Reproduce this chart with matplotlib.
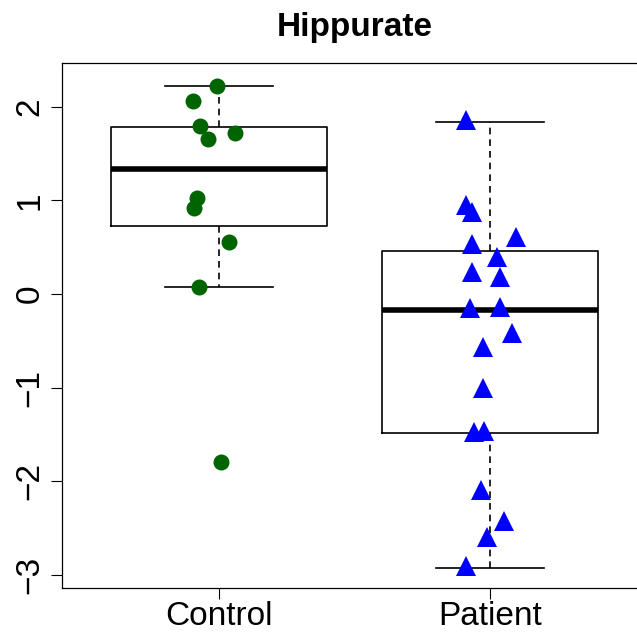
import matplotlib
matplotlib.use("Agg")
import matplotlib.pyplot as plt

# ---- data ----
categories = ["Control", "Patient"]

control_vals = [2.217, 2.063, 1.793, 1.654, 1.722, 1.021, 0.915, 0.552, 0.078, -1.796]
control_jitter = [-0.009, -0.097, -0.070, -0.042, 0.059, -0.082, -0.092, 0.038, -0.073, 0.007]

patient_vals = [1.857, 0.950, 0.878, 0.612, 0.534, 0.398, 0.232, 0.178, -0.153, -0.135,
                -0.413, -0.562, -1.007, -1.470, -1.459, -2.090, -2.420, -2.590, -2.900]
patient_jitter = [-0.089, -0.089, -0.066, 0.097, -0.065, 0.025, -0.065, 0.039, -0.073, 0.036,
                  0.082, -0.027, -0.027, -0.059, -0.021, -0.034, 0.052, -0.012, -0.087]

box_med = [1.334, -0.171]
box_q1 = [0.729, -1.480]
box_q3 = [1.779, 0.459]
box_lo = [0.075, -2.928]
box_hi = [2.217, 1.832]

yticks = [-3, -2, -1, 0, 1, 2]

plt.rcParams['font.family'] = ['Liberation Sans', 'DejaVu Sans']

fig = plt.figure(figsize=(6.37, 6.32), dpi=100)
ax = fig.add_axes([62 / 637, 43.7 / 632, 585 / 637, 525 / 632])

stats = []
for i, c in enumerate(categories):
    stats.append(dict(med=box_med[i], q1=box_q1[i], q3=box_q3[i],
                      whislo=box_lo[i], whishi=box_hi[i], label=c))

ax.bxp(stats, positions=[1, 2], widths=0.8, capwidths=0.4, showfliers=False,
       boxprops=dict(color='black', linewidth=1.2),
       medianprops=dict(color='black', linewidth=4.0, solid_capstyle='butt'),
       whiskerprops=dict(color='black', linewidth=1.2, linestyle=(0, (4, 3))),
       capprops=dict(color='black', linewidth=1.2))

ax.plot([1 + j for j in control_jitter], control_vals, linestyle='none', marker='o',
        markersize=11.5, color='#006400', markeredgewidth=0, zorder=5)
ax.plot([2 + j for j in patient_jitter], patient_vals, linestyle='none', marker='^',
        markersize=14, color='#0000FF', markeredgewidth=0, zorder=5)

ax.set_xlim(0.42, 2.58)
ax.set_ylim(-3.141, 2.462)
ax.set_yticks(yticks)
ax.set_yticklabels([str(t).replace('-', '\u2212') for t in yticks])
ax.set_xticks([1, 2])
ax.set_xticklabels(categories)

for s in ax.spines.values():
    s.set_linewidth(0.9)
    s.set_color('black')

ax.tick_params(axis='y', labelrotation=90, length=8, width=0.8, pad=4, labelsize=24)
ax.tick_params(axis='x', length=8, width=0.8, pad=1, labelsize=24)
for lab in ax.get_yticklabels():
    lab.set_verticalalignment('center')

ax.set_title('Hippurate', fontsize=24, fontweight='bold', pad=20)

fig.savefig('out.png', dpi=100)
